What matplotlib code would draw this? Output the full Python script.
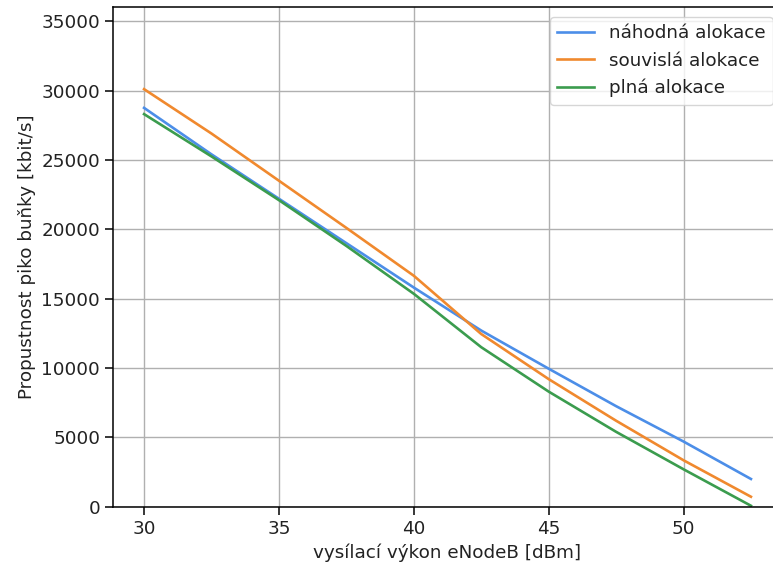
import matplotlib
matplotlib.use('Agg')
import matplotlib.pyplot as plt

# transmit power of the eNodeB [dBm]
power = [30, 32.5, 35, 37.5, 40, 42.5, 45, 47.5, 50, 52.5]

# pico cell throughput [kbit/s] for the three allocation schemes
random_alloc = [28750, 25400, 22200, 19000, 15800, 12700, 9950, 7250, 4700, 2000]
contiguous_alloc = [30100, 26900, 23500, 20100, 16650, 12450, 9200, 6200, 3350, 720]
full_alloc = [28300, 25250, 22100, 18800, 15350, 11500, 8300, 5400, 2700, 70]

labels = ['náhodná alokace', 'souvislá alokace', 'plná alokace']
colors = ['#4c8ee8', '#f0892e', '#3b9c4e']

fs = 13.2
fig = plt.figure(figsize=(7.73, 5.67), dpi=100)
ax = fig.add_axes([0.1466, 0.1063, 0.8643, 0.8808])

for series, lab, col in zip([random_alloc, contiguous_alloc, full_alloc], labels, colors):
    ax.plot(power, series, color=col, linewidth=1.9, label=lab)

ax.set_xlim(28.86, 53.63)
ax.set_ylim(0, 36000)
ax.set_xticks([30, 35, 40, 45, 50])
ax.set_yticks(range(0, 35001, 5000))
ax.tick_params(labelsize=fs, length=6, width=1.1, labelcolor='#222222')
for s in ax.spines.values():
    s.set_linewidth(1.1)
ax.grid(True, color='#b0b0b0', linewidth=1.0)

ax.set_xlabel('vysílací výkon eNodeB [dBm]', fontsize=fs, color='#222222')
ax.set_ylabel('Propustnost piko buňky [kbit/s]', fontsize=fs, color='#222222')

leg = ax.legend(loc='upper right', bbox_to_anchor=(772.5 / 773, 1 - 17 / 567),
                bbox_transform=fig.transFigure, borderaxespad=0, fontsize=fs)
for t in leg.get_texts():
    t.set_color('#222222')

fig.savefig('out.png', dpi=100)
